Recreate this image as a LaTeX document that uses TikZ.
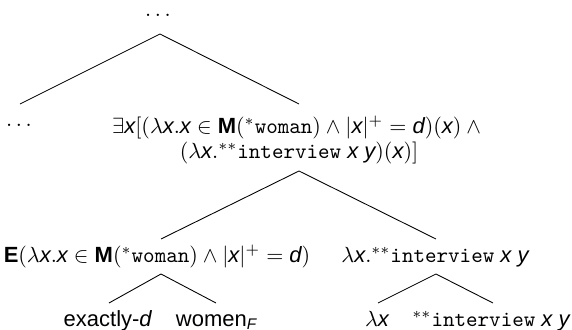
\documentclass[tikz,border=0pt]{standalone}
\usepackage[no-math]{fontspec}
\setmainfont{Liberation Sans}
\setmonofont{Latin Modern Mono}
% sans italic variables inside formulas
\newcommand{\vx}{\textit{x}}
\newcommand{\vy}{\textit{y}}
\newcommand{\vd}{\textit{d}}
\newcommand{\tw}[1]{\texttt{#1}}
\begin{document}
\begin{tikzpicture}[x=0.455pt,y=-0.455pt,
  lbl/.style={font=\fontsize{10}{11.5}\selectfont, inner sep=0pt, anchor=base},
  branch/.style={line width=0.4pt}]
\useasboundingbox (0,0) rectangle (572,330);

% nodes
\node[lbl] (top) at (158,16) {$\dots$};
\node[lbl] (ldots) at (19,126) {$\dots$};
\node[lbl, align=center, anchor=center] (main) at (299,140)
  {$\exists\vx[(\lambda\vx.\vx\in\textbf{M}(^{*}\tw{woman})\wedge|\vx|^{+}=\vd)(\vx)\wedge{}$\\
   $(\lambda\vx.^{**}\tw{interview}\ \vx\ \vy)(\vx)]$};
\node[lbl] (ev) at (157,262)
  {$\textbf{E}(\lambda\vx.\vx\in\textbf{M}(^{*}\tw{woman})\wedge|\vx|^{+}=\vd)$};
\node[lbl] (pred) at (435,262) {$\lambda\vx.^{**}\tw{interview}\ \vx\ \vy$};
\node[lbl] (exd) at (108,326) {exactly-\vd};
\node[lbl] (wom) at (217,326) {women\textsubscript{\textit{F}}};
\node[lbl] (lam) at (377,326) {$\lambda\vx$};
\node[lbl] (intv) at (491,326) {$^{**}\tw{interview}\ \vx\ \vy$};

% branch points
\coordinate (top-b) at (160,34);
\coordinate (ldots-t) at (20,104);
\coordinate (main-t) at (299,104);
\coordinate (main-b) at (299,171);
\coordinate (ev-t) at (161,239);
\coordinate (pred-t) at (436,239);
\coordinate (ev-b) at (161,274);
\coordinate (pred-b) at (436,274);
\coordinate (exd-t) at (109,303);
\coordinate (wom-t) at (216,303);
\coordinate (lam-t) at (378,303);
\coordinate (intv-t) at (493,303);

% branches
\draw[branch] (ldots-t) -- (top-b) -- (main-t);
\draw[branch] (ev-t) -- (main-b) -- (pred-t);
\draw[branch] (exd-t) -- (ev-b) -- (wom-t);
\draw[branch] (lam-t) -- (pred-b) -- (intv-t);
\end{tikzpicture}
\end{document}
